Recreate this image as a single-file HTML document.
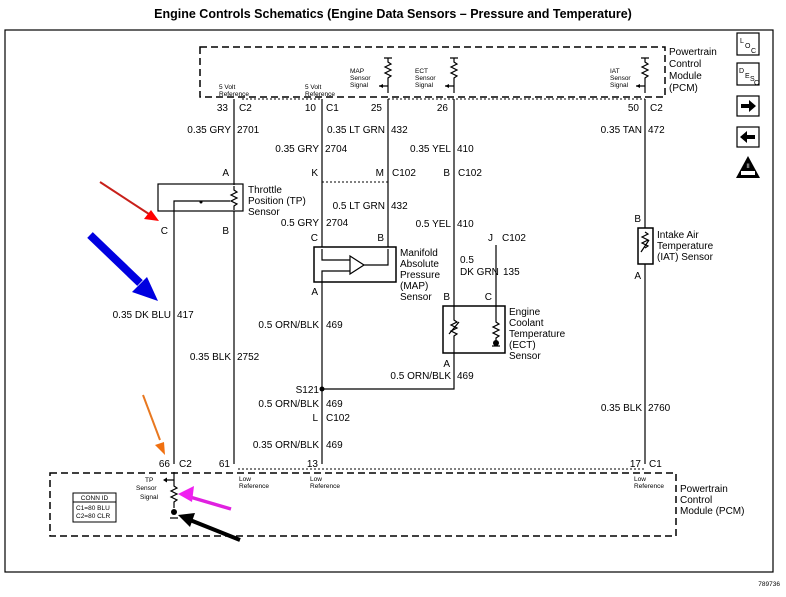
<!DOCTYPE html>
<html><head><meta charset="utf-8"><style>
html,body{margin:0;padding:0;background:#fff;}
svg{display:block;font-family:"Liberation Sans",Arial,sans-serif;}
.t{font-size:10px;fill:#000}
.s{font-size:6.5px;fill:#000}
.w{stroke:#000;stroke-width:1.2;fill:none}
.d{stroke:#000;stroke-width:1.5;fill:none;stroke-dasharray:7,4}
.dt{stroke:#000;stroke-width:1;fill:none;stroke-dasharray:2,2}
</style></head><body>
<svg width="786" height="597" viewBox="0 0 786 597">
<text x="393" y="18" text-anchor="middle" font-size="12.5" font-weight="bold">Engine Controls Schematics (Engine Data Sensors – Pressure and Temperature)</text>
<rect x="5" y="30" width="768" height="542" fill="none" stroke="#000" stroke-width="1.2"/>
<text x="780" y="586" text-anchor="end" font-size="6.5">789736</text>

<!-- icons -->
<g stroke="#000" stroke-width="1.2" fill="#fff">
<rect x="737" y="33" width="22" height="22"/><rect x="737" y="63" width="22" height="22"/>
<rect x="737" y="96" width="22" height="20"/><rect x="737" y="127" width="22" height="20"/>
</g>
<text x="740" y="43" font-size="7">L</text><text x="745" y="48" font-size="7">O</text><text x="751" y="53" font-size="7">C</text>
<text x="739" y="73" font-size="7">D</text><text x="745" y="78" font-size="7">E</text><text x="750" y="81" font-size="7">S</text><text x="754" y="85" font-size="7">C</text>
<path d="M741 104h8v-4l7 6-7 6v-4h-8z" fill="#000"/>
<path d="M755 135h-8v-4l-7 6 7 6v-4h8z" fill="#000"/>
<path d="M748 156l12 22h-24z" fill="#000"/>
<rect x="741" y="171" width="14" height="4" fill="#fff"/>
<text x="748" y="168" font-size="6" fill="#fff" text-anchor="middle">II</text>

<!-- top PCM box -->
<rect x="200" y="47" width="465" height="50" class="d"/>
<text x="669" y="55" class="t">Powertrain</text><text x="669" y="67" class="t">Control</text><text x="669" y="79" class="t">Module</text><text x="669" y="91" class="t">(PCM)</text>
<text x="219" y="89" class="s">5 Volt</text><text x="219" y="96" class="s">Reference</text>
<text x="305" y="89" class="s">5 Volt</text><text x="305" y="96" class="s">Reference</text>
<text x="350" y="73" class="s">MAP</text><text x="350" y="80" class="s">Sensor</text><text x="350" y="87" class="s">Signal</text>
<text x="415" y="73" class="s">ECT</text><text x="415" y="80" class="s">Sensor</text><text x="415" y="87" class="s">Signal</text>
<text x="610" y="73" class="s">IAT</text><text x="610" y="80" class="s">Sensor</text><text x="610" y="87" class="s">Signal</text>
<g class="w">
<path d="M384 58h8M388 58v4l3 2-6 3 6 3-6 3 6 3-3 2v15M388 86h-9"/>
<path d="M450 58h8M454 58v4l3 2-6 3 6 3-6 3 6 3-3 2v15M454 86h-9"/>
<path d="M641 58h8M645 58v4l3 2-6 3 6 3-6 3 6 3-3 2v15M645 86h-9"/>
</g>
<path d="M379 86l4-2v4zM445 86l4-2v4zM636 86l4-2v4z"/>
<path d="M242 99h80M388 99h257" class="dt"/>

<!-- wires -->
<g class="w">
<path d="M234 99v86M234 211v253"/>
<path d="M322 99v148M322 282v182"/>
<path d="M388 99v148"/>
<path d="M454 99v207M454 353v36H322"/>
<path d="M496 245v61"/>
<path d="M645 99v129M645 264v200"/>
<path d="M174 211v253"/>
</g>
<path d="M322 182h66" class="dt"/>
<circle cx="322" cy="389" r="2.5"/>

<!-- pin labels top -->
<text x="228" y="111" class="t" text-anchor="end">33</text><text x="239" y="111" class="t">C2</text>
<text x="316" y="111" class="t" text-anchor="end">10</text><text x="326" y="111" class="t">C1</text>
<text x="382" y="111" class="t" text-anchor="end">25</text>
<text x="448" y="111" class="t" text-anchor="end">26</text>
<text x="639" y="111" class="t" text-anchor="end">50</text><text x="650" y="111" class="t">C2</text>
<text x="231" y="133" class="t" text-anchor="end">0.35 GRY</text><text x="237" y="133" class="t">2701</text>
<text x="385" y="133" class="t" text-anchor="end">0.35 LT GRN</text><text x="391" y="133" class="t">432</text>
<text x="642" y="133" class="t" text-anchor="end">0.35 TAN</text><text x="648" y="133" class="t">472</text>
<text x="319" y="152" class="t" text-anchor="end">0.35 GRY</text><text x="325" y="152" class="t">2704</text>
<text x="451" y="152" class="t" text-anchor="end">0.35 YEL</text><text x="457" y="152" class="t">410</text>
<text x="229" y="176" class="t" text-anchor="end">A</text>
<text x="318" y="176" class="t" text-anchor="end">K</text>
<text x="384" y="176" class="t" text-anchor="end">M</text><text x="392" y="176" class="t">C102</text>
<text x="450" y="176" class="t" text-anchor="end">B</text><text x="458" y="176" class="t">C102</text>

<!-- TP sensor -->
<rect x="158" y="184" width="85" height="27" fill="none" stroke="#000" stroke-width="1.2"/>
<path d="M234 186v4l3 2-6 3 6 3-6 3 6 3-3 2v4M174 211v-10h56M201 201" class="w"/>
<circle cx="201" cy="202" r="1.5"/>
<text x="248" y="193" class="t">Throttle</text><text x="248" y="204" class="t">Position (TP)</text><text x="248" y="215" class="t">Sensor</text>
<text x="168" y="234" class="t" text-anchor="end">C</text>
<text x="229" y="234" class="t" text-anchor="end">B</text>
<text x="171" y="318" class="t" text-anchor="end">0.35 DK BLU</text><text x="177" y="318" class="t">417</text>
<text x="231" y="360" class="t" text-anchor="end">0.35 BLK</text><text x="237" y="360" class="t">2752</text>

<!-- MAP -->
<text x="385" y="209" class="t" text-anchor="end">0.5 LT GRN</text><text x="391" y="209" class="t">432</text>
<text x="319" y="226" class="t" text-anchor="end">0.5 GRY</text><text x="326" y="226" class="t">2704</text>
<text x="318" y="241" class="t" text-anchor="end">C</text><text x="384" y="241" class="t" text-anchor="end">B</text>
<rect x="314" y="247" width="82" height="35" fill="none" stroke="#000" stroke-width="1.5"/>
<path d="M322 249v11h28M322 282v-11h28M350 259v12M350 256l14 9-14 9zM364 265h24v-16" class="w"/>
<text x="400" y="256" class="t">Manifold</text><text x="400" y="267" class="t">Absolute</text><text x="400" y="278" class="t">Pressure</text><text x="400" y="289" class="t">(MAP)</text><text x="400" y="300" class="t">Sensor</text>
<text x="318" y="295" class="t" text-anchor="end">A</text>
<text x="319" y="328" class="t" text-anchor="end">0.5 ORN/BLK</text><text x="326" y="328" class="t">469</text>

<!-- ECT -->
<text x="451" y="227" class="t" text-anchor="end">0.5 YEL</text><text x="457" y="227" class="t">410</text>
<text x="493" y="241" class="t" text-anchor="end">J</text><text x="502" y="241" class="t">C102</text>
<text x="460" y="263" class="t">0.5</text><text x="460" y="275" class="t">DK GRN</text><text x="503" y="275" class="t">135</text>
<text x="450" y="300" class="t" text-anchor="end">B</text><text x="492" y="300" class="t" text-anchor="end">C</text>
<rect x="443" y="306" width="62" height="47" fill="none" stroke="#000" stroke-width="1.5"/>
<path d="M454 306v14l3 2-6 3 6 3-6 3 6 3-3 2v17M449 334l10-12M496 306v16l3 2-6 3 6 3-6 3 6 3-3 2v6" class="w"/>
<circle cx="496" cy="343" r="3"/><path d="M492 346h8" class="w"/>
<text x="509" y="315" class="t">Engine</text><text x="509" y="326" class="t">Coolant</text><text x="509" y="337" class="t">Temperature</text><text x="509" y="348" class="t">(ECT)</text><text x="509" y="359" class="t">Sensor</text>
<text x="450" y="367" class="t" text-anchor="end">A</text>
<text x="451" y="379" class="t" text-anchor="end">0.5 ORN/BLK</text><text x="457" y="379" class="t">469</text>
<text x="319" y="393" class="t" text-anchor="end">S121</text>
<text x="319" y="407" class="t" text-anchor="end">0.5 ORN/BLK</text><text x="326" y="407" class="t">469</text>
<text x="318" y="421" class="t" text-anchor="end">L</text><text x="326" y="421" class="t">C102</text>
<text x="319" y="448" class="t" text-anchor="end">0.35 ORN/BLK</text><text x="326" y="448" class="t">469</text>

<!-- IAT -->
<text x="641" y="222" class="t" text-anchor="end">B</text>
<rect x="638" y="228" width="15" height="36" fill="none" stroke="#000" stroke-width="1.5"/>
<path d="M645 232l3 2-6 3 6 3-6 3 6 3-3 2M641 252l8-12" class="w"/>
<text x="657" y="238" class="t">Intake Air</text><text x="657" y="249" class="t">Temperature</text><text x="657" y="260" class="t">(IAT) Sensor</text>
<text x="641" y="279" class="t" text-anchor="end">A</text>
<text x="642" y="411" class="t" text-anchor="end">0.35 BLK</text><text x="648" y="411" class="t">2760</text>

<!-- bottom pins -->
<text x="170" y="467" class="t" text-anchor="end">66</text><text x="179" y="467" class="t">C2</text>
<text x="230" y="467" class="t" text-anchor="end">61</text>
<text x="318" y="467" class="t" text-anchor="end">13</text>
<text x="641" y="467" class="t" text-anchor="end">17</text><text x="649" y="467" class="t">C1</text>
<path d="M238 469h407" class="dt"/>

<!-- bottom PCM -->
<rect x="50" y="473" width="626" height="63" class="d"/>
<text x="680" y="492" class="t">Powertrain</text><text x="680" y="503" class="t">Control</text><text x="680" y="514" class="t">Module (PCM)</text>
<text x="239" y="481" class="s">Low</text><text x="239" y="488" class="s">Reference</text>
<text x="310" y="481" class="s">Low</text><text x="310" y="488" class="s">Reference</text>
<text x="634" y="481" class="s">Low</text><text x="634" y="488" class="s">Reference</text>
<text x="145" y="482" class="s">TP</text><text x="136" y="490" class="s">Sensor</text><text x="140" y="499" class="s">Signal</text>
<path d="M174 472v14l3 2-6 3 6 3-6 3 6 3-3 2v6M174 480h-9M170 518h8" class="w"/>
<path d="M163 480l4-2.5v5z"/>
<circle cx="174" cy="512" r="3"/>
<rect x="73" y="493" width="43" height="29" fill="none" stroke="#000" stroke-width="1"/>
<path d="M73 502h43" stroke="#000"/>
<text x="94.5" y="500" font-size="6.5" text-anchor="middle">CONN ID</text>
<text x="76" y="510" class="s">C1=80 BLU</text><text x="76" y="518" class="s">C2=80 CLR</text>

<!-- colored arrows -->
<path d="M100 182L152 216" stroke="#c8201a" stroke-width="2"/><path d="M159 221l-15-2 7-9z" fill="#f00"/>
<path d="M90 235L140 283" stroke="#0000e0" stroke-width="8"/><path d="M158 301l-26-9 15-15z" fill="#0000e0"/>
<path d="M143 395L160 440" stroke="#e87820" stroke-width="2"/><path d="M165 455l-10-10 9-3z" fill="#f07010"/>
<path d="M231 509L190 497" stroke="#e020e0" stroke-width="3.5"/><path d="M178 494l16-8-2 16z" fill="#f020f0"/>
<path d="M240 540L190 520" stroke="#000" stroke-width="4"/><path d="M178 515l17-2-5 14z"/>
</svg>
</body></html>
